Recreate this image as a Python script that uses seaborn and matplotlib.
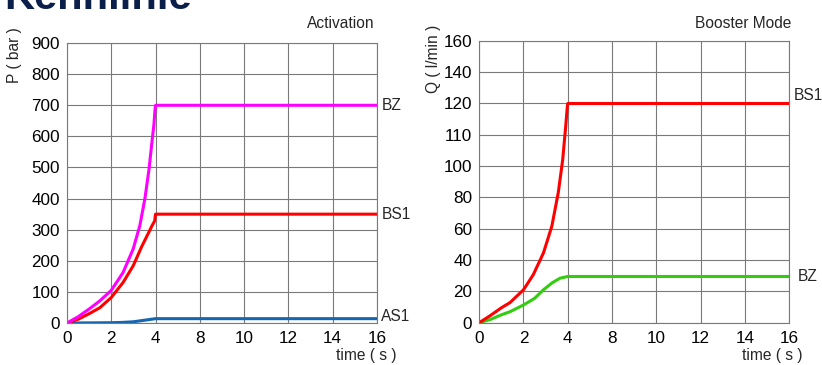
import numpy as np
import matplotlib
matplotlib.use("Agg")
import matplotlib.pyplot as plt
import seaborn as sns

sns.set_style("white")
plt.rcParams['font.family'] = ['Liberation Sans', 'DejaVu Sans']

# x axis: the time ticks are evenly spaced although 6 s is missing
time_ticks = [0, 2, 4, 8, 10, 12, 14, 16]

# Activation: pressure (bar) over time (s)
act_bz_t = [0, 0.5, 1, 1.48, 2, 2.53, 2.99, 3.29, 3.52, 3.71, 3.85, 3.93, 3.97, 4.0, 16]
act_bz_p = [0, 20, 45, 71, 105, 162, 238, 313, 400, 497, 590, 640, 680, 700, 700]
act_bs1_t = [0, 0.5, 1, 1.48, 2, 2.53, 2.99, 3.37, 3.67, 3.85, 3.96, 4.0, 16]
act_bs1_p = [0, 12, 30, 49, 82, 130, 184, 245, 288, 314, 328, 350, 350]
act_as1_t = [0, 2, 2.5, 3, 3.5, 4, 16]
act_as1_p = [0, 1, 2, 4, 9, 14, 14]
p_ticks = [0, 100, 200, 300, 400, 500, 600, 700, 800, 900]

# Booster mode: flow (l/min) over time (s); y ticks are evenly spaced too
q_ticks = [0, 20, 40, 60, 80, 100, 110, 120, 140, 160]
boo_bs1_t = [0, 0.5, 1, 1.39, 2, 2.44, 2.9, 3.28, 3.57, 3.77, 3.91, 3.98, 4.0, 16]
boo_bs1_q = [0, 4.5, 9.5, 12.8, 21, 30.6, 44.5, 61.6, 83, 102, 113, 119, 120, 120]
boo_bz_t = [0, 0.5, 1, 1.39, 2, 2.5, 2.9, 3.3, 3.65, 4.0, 16]
boo_bz_q = [0, 2, 5, 7, 11.3, 15.5, 21, 25.5, 28.4, 29.5, 29.5]

grid_c = '#7a7a7a'
fs_tick = 12.3
fs_text = 11.2


def tx(t):
    # time -> tick index position
    return np.interp(t, time_ticks, np.arange(len(time_ticks)))


def qy(q):
    return np.interp(q, q_ticks, np.arange(len(q_ticks)))


def style_axes(ax):
    ax.set_xlim(0, len(time_ticks) - 1)
    ax.set_xticks(range(len(time_ticks)))
    ax.set_xticklabels([str(v) for v in time_ticks])
    ax.grid(True, color=grid_c, linewidth=0.8)
    ax.set_axisbelow(True)
    for s in ax.spines.values():
        s.set_color(grid_c)
        s.set_linewidth(0.8)
    ax.tick_params(axis='both', labelsize=fs_tick, labelcolor='black', length=3,
                   width=0.8, pad=2, color=grid_c)
    ax.tick_params(axis='x', length=0, pad=6)
    ax.set_xlabel('')
    ax.set_ylabel('')


fig = plt.figure(figsize=(8.22, 3.65), dpi=100)

# left: Activation
ax1 = fig.add_axes([0.0815, 0.115, 0.377, 0.767])
sns.lineplot(x=tx(act_as1_t), y=act_as1_p, ax=ax1, color='#1565b0', lw=2.2, sort=False)
sns.lineplot(x=tx(act_bs1_t), y=act_bs1_p, ax=ax1, color='#ff0000', lw=2.2, sort=False)
sns.lineplot(x=tx(act_bz_t), y=act_bz_p, ax=ax1, color='#ff00ff', lw=2.2, sort=False)
ax1.set_ylim(0, 900)
ax1.set_yticks(p_ticks)
style_axes(ax1)
ax1.text(6.95, 940, 'Activation', fontsize=fs_text, ha='right', va='bottom')
ax1.text(7.1, 700, 'BZ', fontsize=fs_text, va='center', clip_on=False)
ax1.text(7.1, 350, 'BS1', fontsize=fs_text, va='center', clip_on=False)
ax1.text(7.1, 22, 'AS1', fontsize=fs_text, va='center', clip_on=False)
ax1.text(0.965, -0.115, 'time ( s )', fontsize=fs_text, transform=ax1.transAxes,
         ha='center', va='center')
fig.text(0.018, 0.925, 'P ( bar )', fontsize=fs_text, rotation=90, ha='center', va='top')

# right: Booster Mode
ax2 = fig.add_axes([0.583, 0.116, 0.377, 0.772])
sns.lineplot(x=tx(boo_bz_t), y=qy(boo_bz_q), ax=ax2, color='#33cc11', lw=2.2, sort=False)
sns.lineplot(x=tx(boo_bs1_t), y=qy(boo_bs1_q), ax=ax2, color='#ff0000', lw=2.2, sort=False)
ax2.set_ylim(0, len(q_ticks) - 1)
ax2.set_yticks(range(len(q_ticks)))
ax2.set_yticklabels([str(v) for v in q_ticks])
style_axes(ax2)
ax2.text(7.05, 9.32, 'Booster Mode', fontsize=fs_text, ha='right', va='bottom')
ax2.text(7.1, qy(120) + 0.25, 'BS1', fontsize=fs_text, va='center', clip_on=False)
ax2.text(7.2, qy(29.5), 'BZ', fontsize=fs_text, va='center', clip_on=False)
ax2.text(0.945, -0.118, 'time ( s )', fontsize=fs_text, transform=ax2.transAxes,
         ha='center', va='center')
fig.text(0.527, 0.932, 'Q ( l/min )', fontsize=fs_text, rotation=90, ha='center', va='top')

# heading cut off at the top edge of the slide
fig.text(0.005, 1.06, 'Kennlinie', fontsize=30, fontweight='bold', color='#0b1f4b',
         ha='left', va='top')

fig.savefig('out.png', dpi=100)
